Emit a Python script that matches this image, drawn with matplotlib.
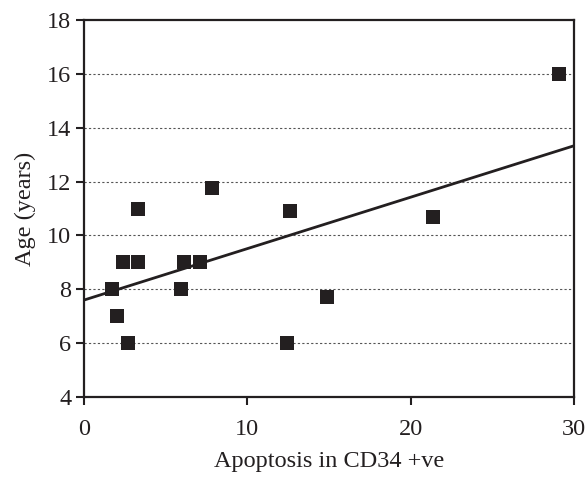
import matplotlib.pyplot as plt

# data
apoptosis = [1.7, 2.0, 2.4, 2.7, 3.3, 3.3, 5.95, 6.1, 7.1, 7.85, 12.4, 12.6, 14.9, 21.35, 29.1]
age = [8.0, 7.0, 9.0, 6.0, 11.0, 9.0, 8.0, 9.0, 9.0, 11.75, 6.0, 10.9, 7.7, 10.7, 16.0]

# regression line ends as drawn
fit_x = [0, 30]
fit_y = [7.6, 13.33]

x_ticks = [0, 10, 20, 30]
y_ticks = [4, 6, 8, 10, 12, 14, 16, 18]

plt.rcParams['font.family'] = ['Liberation Serif', 'DejaVu Serif']
dark = '#231f20'

fig = plt.figure(figsize=(5.86, 4.8), dpi=100)
ax = fig.add_axes([0.1433, 0.1729, 0.8362, 0.7854])

for yv in y_ticks[1:-1]:
    ax.axhline(yv, color='#555555', linestyle=(0, (2, 2)), linewidth=0.8, zorder=1)

ax.plot(fit_x, fit_y, color=dark, linewidth=2.0, zorder=2)
ax.scatter(apoptosis, age, marker='s', s=105, color=dark, zorder=3, linewidths=0)

ax.set_xlim(0, 30)
ax.set_ylim(4, 18)
ax.set_xticks(x_ticks)
ax.set_yticks(y_ticks)
ax.tick_params(direction='out', length=6, width=1.5, labelsize=17.5, color=dark, labelcolor=dark, pad=3)
ax.tick_params(axis='x', pad=10)
for s in ax.spines.values():
    s.set_linewidth(1.6)
    s.set_color(dark)

ax.set_xlabel('Apoptosis in CD34 +ve', fontsize=17.5, color=dark, labelpad=8)
ax.set_ylabel('Age (years)', fontsize=17.5, color=dark, labelpad=8)

fig.savefig('out.png', dpi=100)
